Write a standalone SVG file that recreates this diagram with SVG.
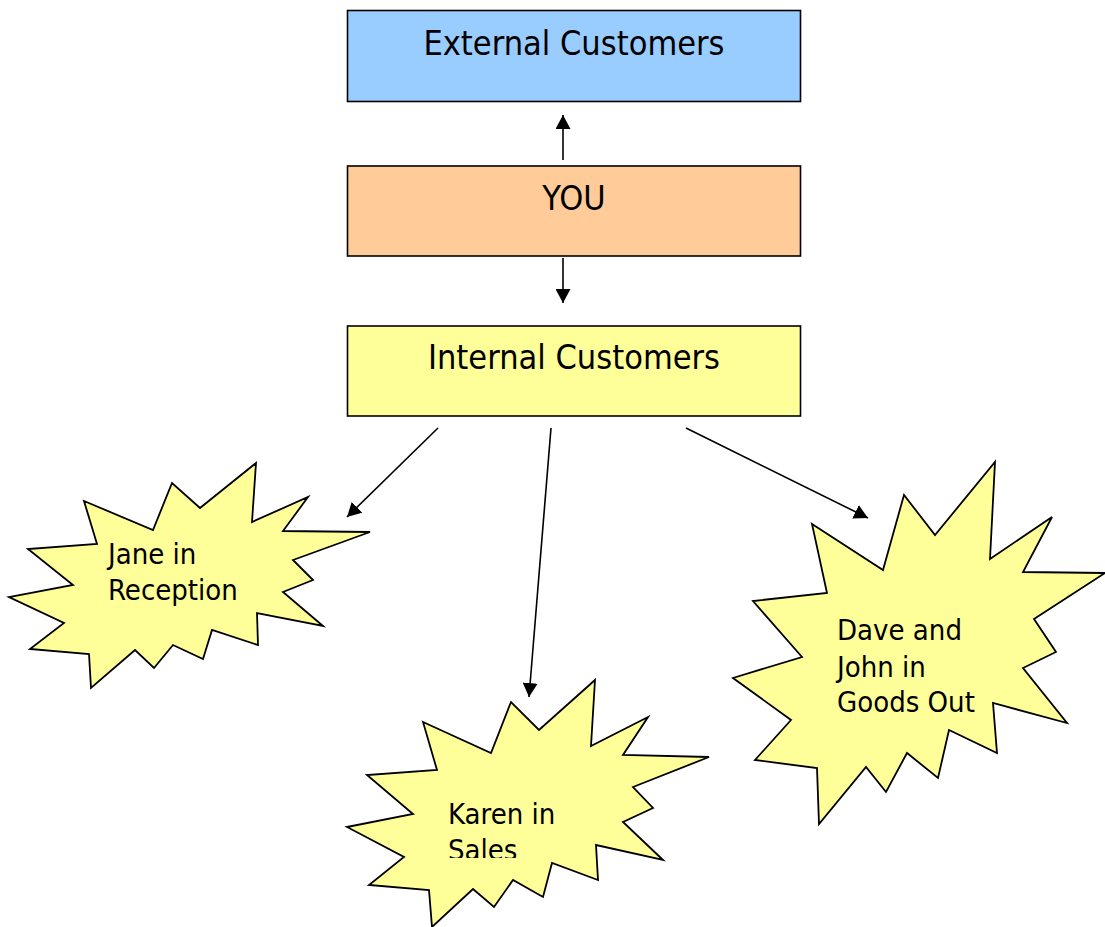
<svg xmlns="http://www.w3.org/2000/svg" width="1105" height="927" viewBox="0 0 1105 927">
  <style>
    .box { stroke: #000; stroke-width: 1.6; }
    .burst { fill: #ffff99; stroke: #000; stroke-width: 1.8; stroke-linejoin: miter; }
    .title { font-family: "DejaVu Sans Condensed", "DejaVu Sans", sans-serif; font-size: 34px; fill: #000; text-anchor: middle; }
    .label { font-family: "DejaVu Sans Condensed", "DejaVu Sans", sans-serif; font-size: 29px; fill: #000; }
    .conn { stroke: #000; stroke-width: 1.6; fill: none; marker-end: url(#arrow); }
  </style>
  <defs>
    <marker id="arrow" markerUnits="userSpaceOnUse" markerWidth="15" markerHeight="15" refX="14" refY="7.5" orient="auto">
      <path d="M0,0 L14,7.5 L0,15 z" fill="#000"/>
    </marker>
    <clipPath id="karenClip">
      <rect x="340" y="780" width="300" height="78"/>
    </clipPath>
  </defs>

  <rect width="1105" height="927" fill="#fff"/>

  <g id="external-customers">
    <rect class="box" x="347.5" y="10.5" width="453" height="91" fill="#99ccff"/>
    <text class="title" x="574" y="55">External Customers</text>
  </g>

  <g id="you">
    <rect class="box" x="347.5" y="166" width="453" height="90" fill="#ffcc99"/>
    <text class="title" x="574" y="210">YOU</text>
  </g>

  <g id="internal-customers">
    <rect class="box" x="347.5" y="326" width="453" height="90" fill="#ffff99"/>
    <text class="title" x="574" y="369">Internal Customers</text>
  </g>

  <g id="jane">
    <polygon class="burst" points="84,501 153,530 172,483 200,508 256,463 252,522 308,497 283,531 370,532 293,560 313,580 283,592 323,626 257,613 258,645 212,630 203,659 173,645 154,668 135,650 91,688 89,654 30,649 64,623 9,597 73,585 28,549 97,544"/>
    <text class="label" x="108" y="564">Jane in</text>
    <text class="label" x="108" y="600">Reception</text>
  </g>

  <g id="karen">
    <polygon class="burst" points="423,722 491,753 511,702 539,730 595,680 591,746 648,717 623,755 709,757 633,787 653,808 623,822 663,860 596,845 598,880 552,863 543,897 513,880 494,907 473,889 432,927 429,890 369,885 404,857 347,827 413,814 367,775 437,770"/>
    <g clip-path="url(#karenClip)">
      <text class="label" x="448" y="824">Karen in</text>
      <text class="label" x="448" y="860">Sales</text>
    </g>
  </g>

  <g id="dave-john">
    <polygon class="burst" points="812,524 883,570 904,495 935,535 995,462 990,559 1052,517 1023,572 1105,573 1034,619 1056,652 1023,668 1067,723 993,703 997,753 949,730 938,778 907,753 886,792 866,767 819,824 817,768 755,760 791,720 733,678 802,657 753,601 827,593"/>
    <text class="label" x="837" y="640">Dave and</text>
    <text class="label" x="837" y="677">John in</text>
    <text class="label" x="837" y="712">Goods Out</text>
  </g>

  <g id="connectors">
    <line class="conn" x1="563" y1="160" x2="563" y2="115"/>
    <line class="conn" x1="563" y1="258" x2="563" y2="303"/>
    <line class="conn" x1="438" y1="428" x2="347" y2="517"/>
    <line class="conn" x1="551" y1="428" x2="529" y2="697"/>
    <line class="conn" x1="686" y1="428" x2="868" y2="518"/>
  </g>
</svg>
